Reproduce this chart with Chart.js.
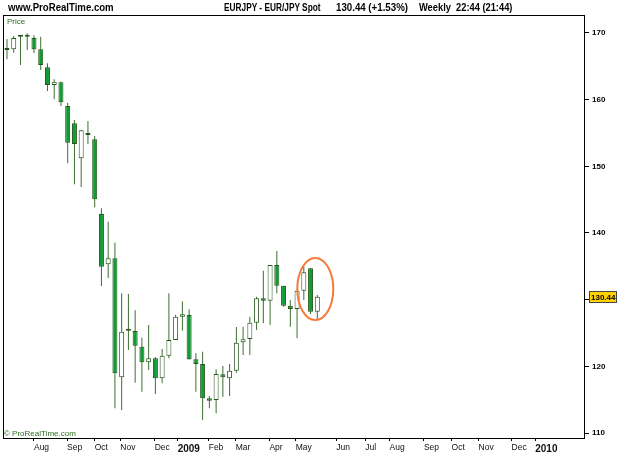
<!DOCTYPE html>
<html>
<head>
<meta charset="utf-8">
<title>EURJPY weekly</title>
<script src="https://cdn.jsdelivr.net/npm/chart.js@4.4.1/dist/chart.umd.min.js"></script>
<style>
  html, body { margin: 0; padding: 0; background: #fff; }
  #wrap { position: relative; width: 625px; height: 469px; font-family: "Liberation Sans", Arial, sans-serif; }
  #wrap canvas { position: absolute; left: 0; top: 0; }
  .txt { position: absolute; white-space: pre; line-height: 1; transform-origin: 0 0; }
  .brand { left: 8px; top: 3px; font-size: 10px; font-weight: bold; color: #000; transform: scaleX(0.96); }
  .hd { top: 3px; font-size: 10px; font-weight: bold; color: #000; }
  .green { color: #2a6e1e; font-size: 8px; }
</style>
</head>
<body>
<div id="wrap">
  <canvas id="chart" width="625" height="469"></canvas>
  <div class="txt brand">www.ProRealTime.com</div>
  <div class="txt hd" style="left:224px;transform:scaleX(0.83)">EURJPY - EUR/JPY Spot</div>
  <div class="txt hd" style="left:336px;transform:scaleX(0.97)">130.44 (+1.53%)</div>
  <div class="txt hd" style="left:419px;transform:scaleX(0.93)">Weekly&nbsp; 22:44 (21:44)</div>
  <div class="txt green" style="left:7px;top:18px">Price</div>
  <div class="txt green" style="left:4px;top:430px">© ProRealTime.com</div>
</div>
<script>
// weekly candles, week index 0 = first candle (early Jul 2008)
const OPEN  = [167.50, 167.55, 169.45, 169.45, 169.25, 167.55, 164.85, 162.20, 162.60, 159.05,
               156.45, 151.20, 154.70, 154.05, 142.85, 135.30, 136.20, 118.35, 125.35, 125.30,
               122.95, 120.60, 121.20, 118.20, 121.60, 123.95, 127.45, 127.70, 121.05, 120.35,
               115.20, 114.95, 118.80, 118.20, 119.35, 123.60, 124.10, 126.55, 130.20, 129.85,
               135.20, 132.10, 129.10, 128.60, 131.35, 134.70, 128.20];
const HIGH  = [169.10, 169.55, 169.55, 169.95, 169.65, 169.45, 165.45, 163.05, 162.70, 159.55,
               156.95, 155.45, 156.80, 154.55, 143.70, 141.70, 138.55, 130.95, 130.85, 128.40,
               124.30, 126.20, 121.40, 122.60, 130.95, 127.75, 129.75, 128.55, 121.95, 122.20,
               115.55, 119.55, 120.05, 120.35, 125.90, 125.95, 127.45, 130.45, 134.35, 135.20,
               137.30, 132.10, 129.95, 131.35, 134.95, 134.70, 130.70];
const LOW   = [166.05, 167.05, 165.20, 167.45, 167.00, 164.45, 161.30, 160.05, 159.05, 150.45,
               147.30, 146.90, 153.35, 143.85, 132.05, 133.25, 113.70, 113.45, 122.45, 117.55,
               116.20, 119.45, 115.85, 117.45, 121.20, 123.95, 125.35, 121.00, 116.20, 111.95,
               113.70, 112.95, 115.45, 115.55, 119.05, 121.70, 121.70, 125.45, 126.45, 126.20,
               130.95, 128.95, 125.95, 124.20, 129.95, 127.85, 126.95];
const CLOSE = [167.45, 169.25, 169.45, 169.45, 167.55, 165.20, 162.20, 162.70, 159.60, 153.55,
               153.35, 155.40, 154.70, 145.05, 134.95, 136.20, 118.95, 125.20, 125.35, 123.10,
               120.60, 121.20, 118.20, 121.60, 123.95, 127.45, 127.80, 121.05, 120.35, 115.20,
               114.85, 118.85, 118.35, 119.35, 123.55, 124.05, 126.55, 130.20, 129.85, 135.20,
               132.10, 129.10, 128.60, 131.35, 134.10, 128.20, 130.44];

const MONTH_POS    = [4.0, 8.9, 13.0, 16.8, 21.9, 25.3, 29.9, 33.9, 38.9, 42.8,
                      48.8, 53.1, 56.7, 61.8, 65.9, 69.9, 74.8, 78.3];
const MONTH_LABELS = ['Aug', 'Sep', 'Oct', 'Nov', 'Dec', '2009', 'Feb', 'Mar', 'Apr', 'May',
                      'Jun', 'Jul', 'Aug', 'Sep', 'Oct', 'Nov', 'Dec', '2010'];
const Y_TICKS = [110, 120, 130, 140, 150, 160, 170];
const LAST_PRICE = 130.44;
const HIGHLIGHT_X = 45.7;   // week index of the circled candles
const HIGHLIGHT_Y = 131.6;

const GREEN = '#119b34';
const DARK = '#24561b';
const WICK = '#3d6e30';
const FONT = '"Liberation Sans", Arial, sans-serif';

const bodies = OPEN.map((o, i) => ({ x: i, y: [o, CLOSE[i]] }));
const wicks = LOW.map((l, i) => ({ x: i, y: [l, HIGH[i]] }));
const bodyFill = OPEN.map((o, i) => (CLOSE[i] < o ? GREEN : '#ffffff'));

const frame = {
  id: 'frame',
  afterDraw(chart) {
    const { ctx, chartArea: a, scales } = chart;
    const x = scales.x, y = scales.y;
    ctx.save();
    // circled candles
    ctx.strokeStyle = '#f47b3b';
    ctx.lineWidth = 2;
    ctx.beginPath();
    ctx.ellipse(x.getPixelForValue(HIGHLIGHT_X), y.getPixelForValue(HIGHLIGHT_Y), 18, 31, 0, 0, Math.PI * 2);
    ctx.stroke();
    // plot frame
    ctx.strokeStyle = '#000';
    ctx.lineWidth = 1;
    ctx.strokeRect(a.left + 0.5, a.top + 0.5, a.right - a.left - 1, a.bottom - a.top);
    // last price tag
    const py = Math.round(y.getPixelForValue(LAST_PRICE));
    ctx.fillStyle = '#ffd200';
    ctx.fillRect(a.right + 4, py - 5, 28, 11);
    ctx.strokeStyle = '#444';
    ctx.strokeRect(a.right + 4.5, py - 5.5, 27, 11);
    ctx.fillStyle = '#000';
    ctx.font = 'bold 8px ' + FONT;
    ctx.textBaseline = 'middle';
    ctx.textAlign = 'left';
    ctx.fillText(LAST_PRICE.toFixed(2), a.right + 6, py + 0.5);
    ctx.restore();
  }
};

new Chart(document.getElementById('chart'), {
  type: 'bar',
  data: {
    datasets: [
      {
        data: bodies,
        backgroundColor: bodyFill,
        borderColor: DARK,
        borderWidth: 1,
        borderSkipped: false,
        barThickness: 5,
        minBarLength: 2,
        grouped: false,
        inflateAmount: 0
      },
      {
        data: wicks,
        backgroundColor: WICK,
        borderWidth: 0,
        barThickness: 1,
        grouped: false,
        inflateAmount: 0
      }
    ]
  },
  plugins: [frame],
  options: {
    responsive: false,
    devicePixelRatio: 1,
    animation: false,
    layout: { padding: { left: 3, top: 15, right: 0, bottom: 0 } },
    plugins: { legend: { display: false }, tooltip: { enabled: false } },
    scales: {
      x: {
        type: 'linear',
        offset: false,
        min: -0.59,
        max: 85.68,
        afterBuildTicks: (s) => { s.ticks = MONTH_POS.map((v) => ({ value: v })); },
        afterFit: (s) => { s.height = 31; },
        grid: { offset: false, drawOnChartArea: false, drawTicks: true, tickLength: 3, tickColor: '#000' },
        border: { display: false },
        ticks: {
          autoSkip: false,
          maxRotation: 0,
          align: 'start',
          padding: 2,
          color: '#111',
          callback: (v) => MONTH_LABELS[MONTH_POS.indexOf(v)],
          font: (c) => {
            const lab = MONTH_LABELS[c.index] || '';
            return /^\d{4}$/.test(lab)
              ? { family: FONT, size: 10, weight: 'bold' }
              : { family: FONT, size: 8.5 };
          }
        }
      },
      y: {
        position: 'right',
        min: 109.25,
        max: 172.7,
        afterBuildTicks: (s) => { s.ticks = Y_TICKS.map((v) => ({ value: v })); },
        afterFit: (s) => { s.width = 40; },
        grid: { drawOnChartArea: false, drawTicks: true, tickLength: 4, tickColor: '#000' },
        border: { display: false },
        ticks: {
          padding: 3,
          color: '#000',
          font: { family: FONT, size: 8, weight: 'bold' }
        }
      }
    }
  }
});
</script>
</body>
</html>
